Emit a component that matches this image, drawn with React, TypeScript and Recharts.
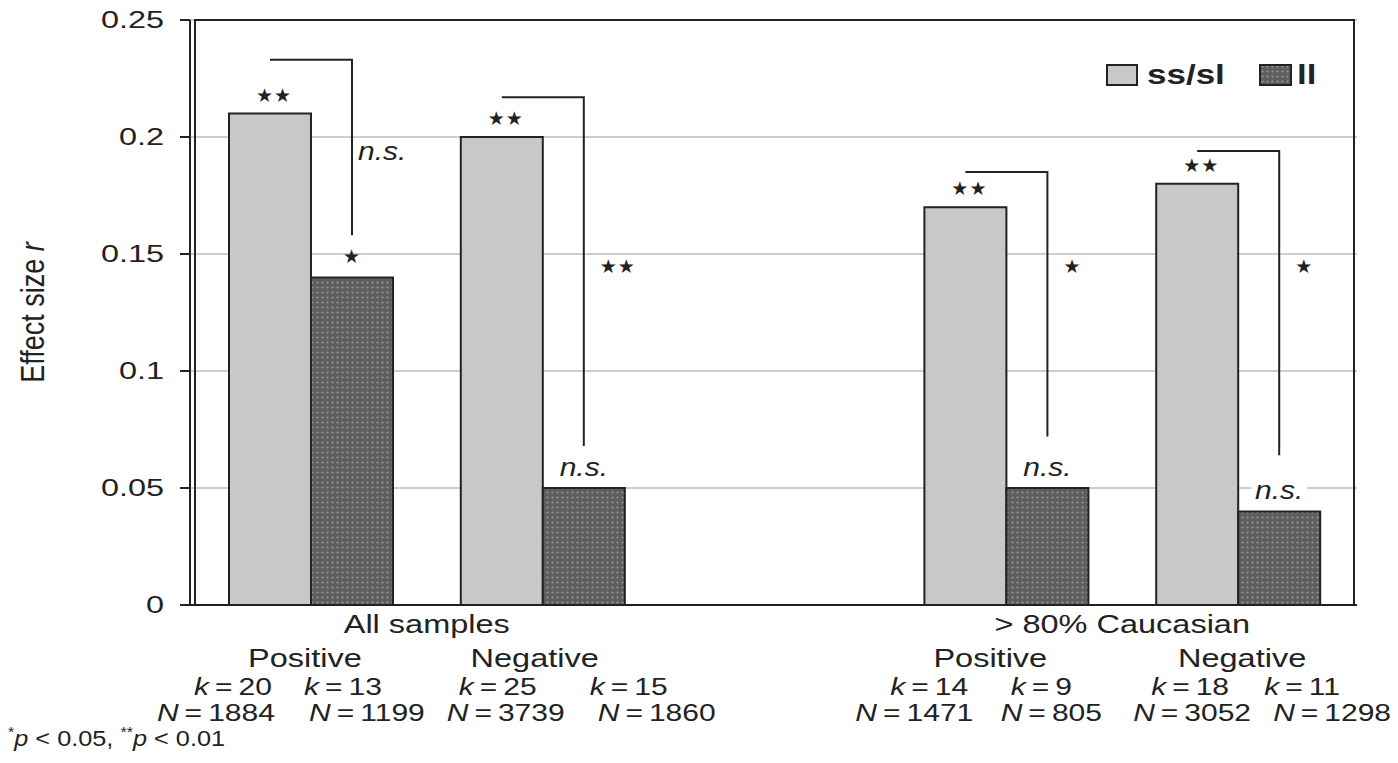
import React from "react"
import {
  BarChart,
  Bar,
  XAxis,
  YAxis,
  CartesianGrid,
  LabelList,
  Legend,
  ReferenceArea
} from "recharts"

// categories: the empty "gap" slot separates the two sample sets
const categories = ["allPos", "allNeg", "gap", "cauPos", "cauNeg"]
const sampleLabels = ["All samples", "", "", "> 80% Caucasian", ""]
const directionLabels = ["Positive", "Negative", "", "Positive", "Negative"]

const ssslValues = [0.21, 0.2, null, 0.17, 0.18]
const llValues = [0.14, 0.05, null, 0.05, 0.04]

const ssslK = [20, 25, null, 14, 18]
const llK = [13, 15, null, 9, 11]
const ssslN = [1884, 3739, null, 1471, 3052]
const llN = [1199, 1860, null, 805, 1298]

// significance of each genotype's effect, and of the ss/sl vs ll difference
const ssslSig = ["**", "**", "", "**", "**"]
const llSig = ["*", "n.s.", "", "n.s.", "n.s."]
const diffSig = ["n.s.", "**", "", "*", "*"]
const bracketTop = [0.233, 0.217, null, 0.185, 0.194]
const bracketBottom = [0.158, 0.068, null, 0.072, 0.064]
const diffSigLevel = [0.194, 0.145, null, 0.145, 0.145]

const yTicks = [0, 0.05, 0.1, 0.15, 0.2, 0.25]

const data = categories.map((key, i) => ({ key, sssl: ssslValues[i], ll: llValues[i] }))

// layout
const W = 1398
const H = 763
const MARGIN = { top: 20, right: 41, bottom: 0, left: 0 }
const Y_W = 190
const X_H = 158
const PAD = { left: 5, right: 3 }
const BAND_LEFT = MARGIN.left + Y_W + PAD.left
const STEP = (W - MARGIN.left - MARGIN.right - Y_W - PAD.left - PAD.right) / categories.length

// label offsets from the category centre: [direction, kLeft, kRight, nLeft, nRight]
const labelOffsets: Record<string, number[]> = {
  allPos: [-6, -78, 32, -95, 56],
  allNeg: [-8, -45, 86, -37, 114],
  cauPos: [-16, -77, 35, -92, 45],
  cauNeg: [4, -48, 64, -46, 94]
}

const INK = "#222"
const FONT = '"Liberation Sans", Arial, Helvetica, sans-serif'
const SX = 1.25 // the figure's type is set wide

const SSSL_FILL = "#c8c8c8"
const LL_FILL = "url(#llTexture)"

// null entries are skipped by the label list, so find the category from the bar position
const categoryAt = (centerX: number) =>
  Math.max(0, Math.min(categories.length - 1, Math.round((centerX - BAND_LEFT) / STEP - 0.5)))

function Txt({ x, y, size = 26, anchor = "middle", sx = SX, weight, children }: any) {
  return (
    <text
      x={0}
      y={0}
      transform={`translate(${x},${y}) scale(${sx},1)`}
      textAnchor={anchor}
      fontFamily={FONT}
      fontSize={size}
      fontWeight={weight}
      fill={INK}
    >
      {children}
    </text>
  )
}

function Sig({ x, y, text, anchor = "middle", boxed = false }: any) {
  if (!text) return null
  if (text === "n.s.") {
    return (
      <g>
        {boxed && <rect x={anchor === "middle" ? x - 28 : x - 2} y={y - 12} width={56} height={24} fill="#fff" />}
        <text
          x={0}
          y={0}
          transform={`translate(${x},${y}) scale(1.2,1)`}
          textAnchor={anchor}
          dominantBaseline="central"
          fontFamily={FONT}
          fontStyle="italic"
          fontSize={25}
          fill={INK}
        >
          n.s.
        </text>
      </g>
    )
  }
  return (
    <text
      x={x}
      y={y}
      textAnchor={anchor}
      dominantBaseline="central"
      fontFamily='"DejaVu Sans", sans-serif'
      fontSize={19}
      letterSpacing={1}
      fill={INK}
    >
      {"\u2605".repeat(text.length)}
    </text>
  )
}

const renderSsslLabel = (props: any) => {
  const x = Number(props.x)
  const y = Number(props.y)
  const width = Number(props.width)
  if (props.value == null) return null
  const i = categoryAt(x + width)
  return <Sig x={x + width / 2 + 4} y={y - 19} text={ssslSig[i]} />
}

const renderLlLabel = (props: any) => {
  const x = Number(props.x)
  const y = Number(props.y)
  const width = Number(props.width)
  const height = Number(props.height)
  const value = props.value
  if (value == null || !height) return null
  const i = categoryAt(x)
  // bar height gives the pixel scale for the bracket levels
  const base = y + height
  const perUnit = height / Number(value)
  const toY = (v: number) => base - v * perUnit
  const left = x - width / 2
  const right = x + width / 2
  const top = bracketTop[i] as number
  const bottom = bracketBottom[i] as number
  const isText = diffSig[i] === "n.s."
  return (
    <g>
      <path
        d={`M${left},${toY(top)} H${right} V${toY(bottom)}`}
        fill="none"
        stroke={INK}
        strokeWidth={2}
      />
      <Sig x={right + (isText ? 6 : 16)} y={toY(diffSigLevel[i] as number)} text={diffSig[i]} anchor="start" />
      <Sig x={right} y={y - 21} text={llSig[i]} boxed />
    </g>
  )
}

const XTick = (props: any) => {
  const { x, y, payload } = props
  const i = categories.indexOf(payload.value)
  const key = categories[i]
  const off = labelOffsets[key]
  if (!off) return null
  const k = (v: any) => (
    <>
      <tspan fontStyle="italic">k</tspan>
      {`\u2009=\u2009${v}`}
    </>
  )
  const n = (v: any) => (
    <>
      <tspan fontStyle="italic">N</tspan>
      {`\u2009=\u2009${v}`}
    </>
  )
  return (
    <g>
      {sampleLabels[i] && (
        <Txt x={x + STEP / 2} y={y + 28} size={26}>
          {sampleLabels[i]}
        </Txt>
      )}
      <Txt x={x + off[0]} y={y + 62} size={26}>
        {directionLabels[i]}
      </Txt>
      <Txt x={x + off[1]} y={y + 90} size={24}>{k(ssslK[i])}</Txt>
      <Txt x={x + off[2]} y={y + 90} size={24}>{k(llK[i])}</Txt>
      <Txt x={x + off[3]} y={y + 116} size={24}>{n(ssslN[i])}</Txt>
      <Txt x={x + off[4]} y={y + 116} size={24}>{n(llN[i])}</Txt>
    </g>
  )
}

const YTick = (props: any) => {
  const { x, y, payload } = props
  return (
    <Txt x={x} y={y + 8} size={24} anchor="end" sx={1.35}>
      {payload.value}
    </Txt>
  )
}

const renderYLabel = (props: any) => {
  const vb = props.viewBox || { x: 0, y: MARGIN.top, height: H - MARGIN.top - X_H }
  const cx = vb.x + 32
  const cy = vb.y + vb.height / 2
  return (
    <text
      transform={`translate(${cx},${cy}) scale(${SX},1) rotate(-90)`}
      textAnchor="middle"
      dominantBaseline="central"
      fontFamily={FONT}
      fontSize={27}
      fill={INK}
    >
      Effect size <tspan fontStyle="italic">r</tspan>
    </text>
  )
}

const renderFootnote = () => (
  <text
    transform="translate(8,746) scale(1.15,1)"
    fontFamily={FONT}
    fontSize={22}
    fill={INK}
  >
    <tspan fontSize={14} dy={-9}>*</tspan>
    <tspan fontStyle="italic" dy={9}>p</tspan>
    {" < 0.05,  "}
    <tspan fontSize={14} dy={-9}>**</tspan>
    <tspan fontStyle="italic" dy={9}>p</tspan>
    {" < 0.01"}
  </text>
)

const renderLegend = () => (
  <svg width={240} height={34}>
    <rect x={7} y={6} width={30} height={20} fill={SSSL_FILL} stroke={INK} strokeWidth={2} />
    <text x={0} y={0} transform={`translate(47,25) scale(${SX},1)`} fontFamily={FONT} fontWeight="bold" fontSize={28} fill={INK}>
      ss/sl
    </text>
    <rect x={160} y={6} width={31} height={20} fill={LL_FILL} stroke={INK} strokeWidth={2} />
    <text x={0} y={0} transform={`translate(197,25) scale(${SX},1)`} fontFamily={FONT} fontWeight="bold" fontSize={28} fill={INK}>
      ll
    </text>
  </svg>
)

export default function App() {
  return (
    <div style={{ position: "absolute", left: 0, top: 0, width: W, height: H, background: "#fff" }}>
      <BarChart width={W} height={H} data={data} margin={MARGIN} barSize={82} barGap={0}>
        <defs>
          <pattern id="llTexture" width={5} height={5} patternUnits="userSpaceOnUse">
            <rect width={5} height={5} fill="#5e5e5e" />
            <circle cx={2.5} cy={2.5} r={1.1} fill="#969696" />
          </pattern>
        </defs>
        <CartesianGrid vertical={false} stroke="#bdbdbd" strokeWidth={1.5} />
        <XAxis
          dataKey="key"
          height={X_H}
          interval={0}
          padding={PAD}
          tickLine={false}
          tickSize={0}
          tickMargin={0}
          tick={<XTick />}
          axisLine={{ stroke: INK, strokeWidth: 2 }}
          label={renderFootnote}
        />
        <YAxis
          width={Y_W}
          domain={[0, 0.25]}
          ticks={yTicks}
          interval={0}
          tickSize={10}
          tickMargin={16}
          tick={<YTick />}
          tickLine={{ stroke: INK, strokeWidth: 2 }}
          axisLine={{ stroke: INK, strokeWidth: 2 }}
          label={renderYLabel}
        />
        <ReferenceArea y1={0} y2={0.25} fill="none" fillOpacity={0} stroke={INK} strokeWidth={2} />
        <Legend
          layout="horizontal"
          verticalAlign="middle"
          align="center"
          content={renderLegend}
          wrapperStyle={{ top: 59, left: 1100, width: 240, height: 34 }}
        />
        <Bar dataKey="sssl" fill={SSSL_FILL} stroke={INK} strokeWidth={2} isAnimationActive={false}>
          <LabelList dataKey="sssl" content={renderSsslLabel} />
        </Bar>
        <Bar dataKey="ll" fill={LL_FILL} stroke={INK} strokeWidth={2} isAnimationActive={false}>
          <LabelList dataKey="ll" content={renderLlLabel} />
        </Bar>
      </BarChart>
    </div>
  )
}
